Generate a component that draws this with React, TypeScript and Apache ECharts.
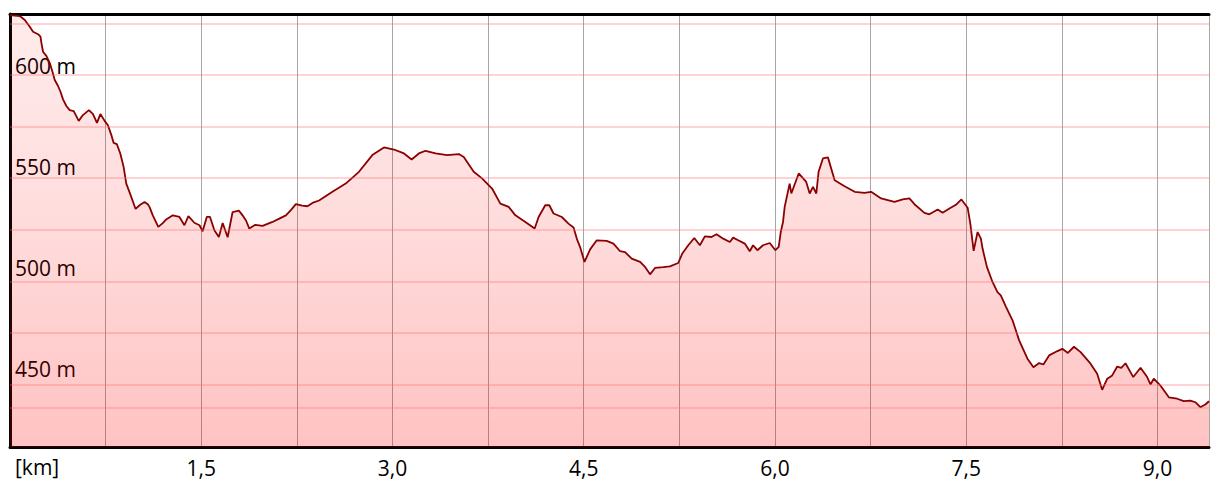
import React, { useEffect, useRef } from "react";
import * as echarts from "echarts";

// Distance along the route (km)
const distanceKm = [
  0, 0.077, 0.116, 0.155, 0.181, 0.22, 0.239, 0.247, 0.259, 0.286, 0.312, 0.333, 0.351, 0.377, 0.396, 0.416,
  0.442, 0.468, 0.5, 0.539, 0.572, 0.619, 0.651, 0.682, 0.709, 0.742, 0.768, 0.795, 0.813, 0.838, 0.865, 0.891,
  0.912, 0.946, 0.985, 1.016, 1.055, 1.081, 1.094, 1.12, 1.163, 1.198, 1.225, 1.277, 1.329, 1.368, 1.399, 1.446,
  1.486, 1.511, 1.544, 1.568, 1.603, 1.638, 1.668, 1.707, 1.746, 1.795, 1.824, 1.851, 1.877, 1.924, 1.981, 2.059,
  2.112, 2.164, 2.203, 2.242, 2.291, 2.333, 2.372, 2.424, 2.529, 2.633, 2.737, 2.842, 2.933, 3.011, 3.09, 3.15,
  3.207, 3.259, 3.338, 3.428, 3.52, 3.559, 3.637, 3.702, 3.781, 3.846, 3.911, 3.964, 4.042, 4.115, 4.146, 4.198,
  4.23, 4.263, 4.328, 4.38, 4.42, 4.446, 4.472, 4.506, 4.55, 4.602, 4.68, 4.733, 4.785, 4.824, 4.876, 4.942,
  4.981, 5.02, 5.059, 5.124, 5.176, 5.241, 5.273, 5.32, 5.367, 5.411, 5.45, 5.502, 5.541, 5.594, 5.646, 5.672,
  5.711, 5.763, 5.802, 5.828, 5.862, 5.906, 5.959, 6.003, 6.029, 6.045, 6.063, 6.076, 6.115, 6.128, 6.186, 6.245,
  6.272, 6.298, 6.324, 6.342, 6.376, 6.415, 6.468, 6.546, 6.625, 6.702, 6.754, 6.832, 6.937, 7.002, 7.054, 7.094,
  7.172, 7.211, 7.276, 7.315, 7.368, 7.419, 7.462, 7.511, 7.532, 7.558, 7.589, 7.615, 7.628, 7.662, 7.706, 7.745,
  7.771, 7.81, 7.863, 7.915, 7.98, 8.027, 8.072, 8.105, 8.15, 8.215, 8.254, 8.297, 8.345, 8.397, 8.475, 8.527,
  8.566, 8.606, 8.645, 8.684, 8.716, 8.749, 8.81, 8.867, 8.919, 8.945, 8.971, 9.023, 9.089, 9.154, 9.206, 9.258,
  9.297, 9.336, 9.375, 9.404,
];

// Elevation (m)
const elevationM = [
  629.1, 628.6, 626.7, 623.4, 621.0, 619.8, 618.6, 615.4, 611.3, 609.2, 605.8, 601.6, 597.6, 594.7, 591.9, 588.2,
  585.0, 583.0, 582.5, 577.8, 580.6, 583.0, 581.1, 576.8, 581.1, 577.8, 575.7, 570.9, 567.1, 566.5, 562.0, 555.5,
  547.4, 541.8, 535.1, 536.9, 538.5, 537.4, 536.1, 532.0, 526.4, 528.2, 530.0, 532.0, 531.2, 527.2, 531.6, 528.4,
  527.2, 524.3, 531.3, 531.3, 524.8, 521.5, 528.3, 521.4, 533.6, 534.3, 532.0, 529.5, 525.6, 527.4, 526.9, 528.8,
  530.4, 532.0, 534.5, 537.4, 536.7, 536.4, 538.0, 539.2, 543.4, 547.4, 553.1, 561.2, 564.9, 563.9, 562.0, 559.1,
  562.0, 563.3, 562.0, 561.2, 561.7, 560.3, 553.1, 549.9, 545.0, 537.7, 536.1, 532.0, 528.8, 525.6, 531.2, 536.9,
  536.9, 532.9, 531.2, 528.0, 526.1, 520.6, 516.5, 509.4, 515.5, 519.9, 519.6, 518.3, 514.6, 514.2, 511.0, 509.4,
  507.0, 503.4, 506.5, 506.9, 507.3, 508.9, 513.5, 517.5, 521.0, 517.5, 521.8, 521.5, 522.8, 520.7, 519.1, 521.2,
  519.9, 518.3, 514.6, 517.5, 515.1, 517.5, 518.6, 515.1, 516.7, 523.8, 528.8, 536.1, 547.4, 542.6, 552.3, 548.2,
  542.6, 545.8, 542.6, 553.1, 559.6, 560.1, 549.0, 546.1, 543.4, 542.9, 543.4, 540.2, 538.5, 539.7, 540.2, 537.4,
  533.2, 532.5, 534.8, 533.2, 535.3, 537.1, 539.7, 535.7, 528.0, 514.8, 523.9, 520.7, 515.9, 507.0, 499.7, 494.8,
  493.2, 487.9, 481.1, 471.4, 462.5, 458.4, 460.4, 459.7, 464.1, 466.2, 467.3, 465.3, 468.3, 465.7, 460.1, 455.2,
  447.4, 452.8, 454.4, 458.7, 458.1, 460.3, 453.6, 458.1, 453.6, 450.0, 452.8, 449.5, 443.8, 443.1, 441.9, 442.2,
  441.4, 439.0, 440.3, 441.9,
];

const xMin = 0;
const xMax = 9.404;
const xTickInterval = 0.75;
const xLabelStep = 1.5;
const xUnitLabel = "[km]";

const yMin = 419.7;
const yMax = 629.6;
const yGridValues = [450, 475, 500, 525, 550, 575, 600, 625];
const lowLineValue = 438.5;

// Elevation labels sit on their own (slightly tighter) label scale, as in the source image
const yLabelValues = [450, 500, 550, 600];
const yLabelScaleMin = 411.4;
const yLabelScaleMax = 625.7;
const yUnit = "m";

const FONT = "'Open Sans', 'Noto Sans', sans-serif";

export default function App() {
  const ref = useRef<HTMLDivElement>(null);

  useEffect(() => {
    if (!ref.current) return;
    const chart = echarts.init(ref.current, undefined, { renderer: "svg" });
    const seriesData = distanceKm.map((d, i) => [d, elevationM[i]]);

    chart.setOption({
      animation: false,
      backgroundColor: "#ffffff",
      grid: { left: 10, right: 0, top: 14, bottom: 33, containLabel: false },
      xAxis: [
        {
          type: "value",
          min: xMin,
          max: xMax,
          interval: xTickInterval,
          position: "bottom",
          axisLine: { show: true, onZero: false, lineStyle: { color: "#000", width: 3 } },
          axisTick: { show: false },
          splitLine: { show: true, lineStyle: { color: "#a6a6a6", width: 1 } },
          axisLabel: {
            show: true,
            margin: 10,
            color: "#000",
            fontSize: 21,
            fontFamily: FONT,
            formatter: (v: number) => {
              const r = v / xLabelStep;
              if (v > 0 && Math.abs(r - Math.round(r)) < 1e-6) return v.toFixed(1).replace(".", ",");
              return "";
            },
          },
        },
        {
          type: "value",
          min: xMin,
          max: xMax,
          position: "top",
          axisLine: { show: true, onZero: false, lineStyle: { color: "#000", width: 3 } },
          axisTick: { show: false },
          splitLine: { show: false },
          axisLabel: { show: false },
        },
      ],
      yAxis: [
        {
          type: "value",
          min: yMin,
          max: yMax,
          position: "left",
          axisLine: { show: true, onZero: false, lineStyle: { color: "#000", width: 3 } },
          axisTick: { show: false },
          splitLine: { show: false },
          axisLabel: { show: false },
        },
        {
          type: "value",
          min: yLabelScaleMin,
          max: yLabelScaleMax,
          position: "left",
          axisLine: { show: false },
          axisTick: { show: false },
          splitLine: { show: false },
          axisLabel: {
            show: true,
            inside: true,
            margin: 5,
            customValues: yLabelValues,
            color: "#000",
            fontSize: 21,
            fontFamily: FONT,
            formatter: (v: number) => `${v} ${yUnit}`,
          },
        },
      ],
      graphic: [
        {
          type: "text",
          left: 15,
          top: 456,
          style: { text: xUnitLabel, fill: "#000", font: `21px ${FONT}` },
        },
      ],
      series: [
        {
          type: "line",
          data: seriesData,
          showSymbol: false,
          symbol: "none",
          lineStyle: { color: "#8b0000", width: 1.8 },
          areaStyle: {
            origin: "start",
            color: new echarts.graphic.LinearGradient(0, 0, 0, 1, [
              { offset: 0, color: "rgba(255,0,0,0.11)" },
              { offset: 0.5, color: "rgba(255,0,0,0.2)" },
              { offset: 1, color: "rgba(255,0,0,0.34)" },
            ]),
          },
          markLine: {
            silent: true,
            symbol: ["none", "none"],
            lineStyle: { color: "rgba(255,110,110,0.3)", width: 2, type: "solid" },
            label: { show: false },
            data: [
              ...yGridValues.map((v) => ({ yAxis: v })),
              { yAxis: lowLineValue },
            ],
          },
        },
      ],
    });

    return () => chart.dispose();
  }, []);

  return (
    <div
      ref={ref}
      style={{ position: "fixed", left: 0, top: 0, width: 1212, height: 480 }}
    />
  );
}
